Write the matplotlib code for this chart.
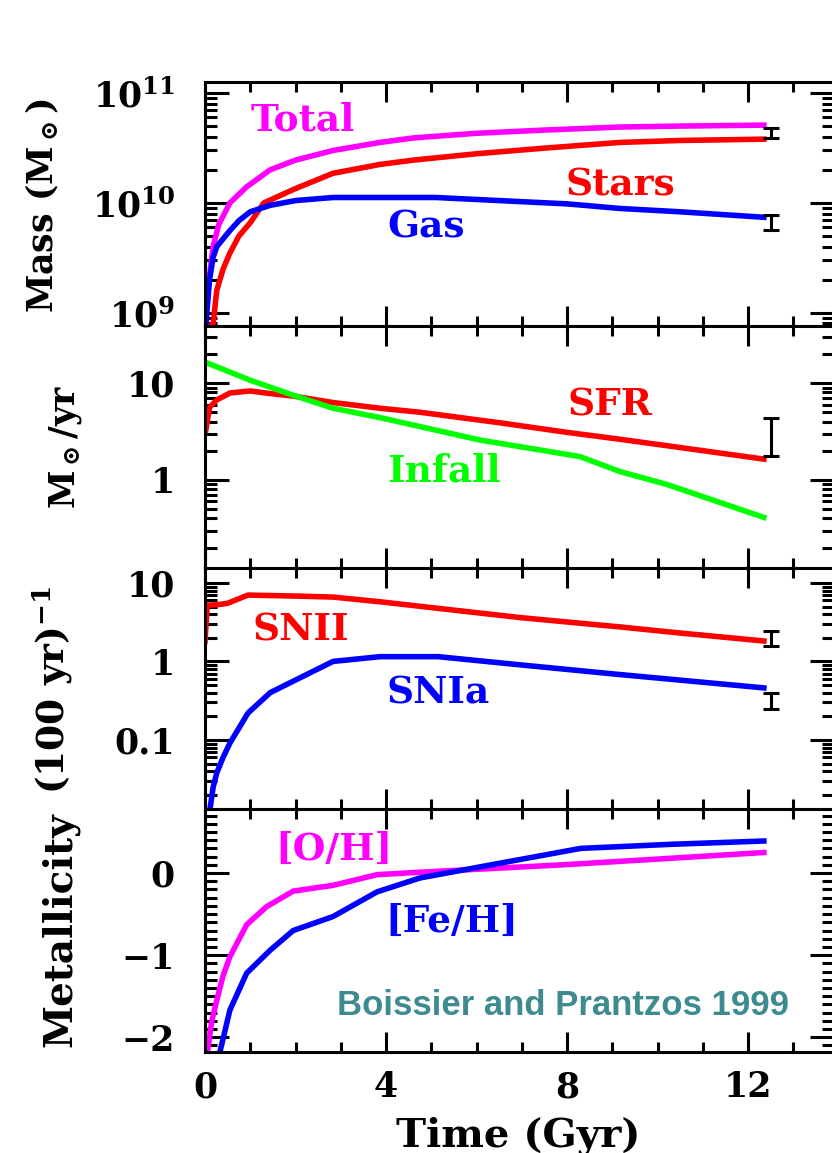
import math
import matplotlib
matplotlib.use("Agg")
import matplotlib.pyplot as plt
from matplotlib.ticker import MultipleLocator, LogLocator, FuncFormatter, FixedLocator, NullFormatter

# ---- data (time in Gyr) ----
t_total = [0.05, 0.1, 0.18, 0.3, 0.55, 0.92, 1.44, 2.0, 2.83, 3.87, 4.6, 6.0, 7.5, 9.17, 10.5, 12.35]
m_total = [1.3e9, 2.2e9, 4.0e9, 6.3e9, 1.0e10, 1.4e10, 2.0e10, 2.45e10, 3.0e10, 3.55e10,
           3.9e10, 4.3e10, 4.6e10, 4.9e10, 5.0e10, 5.1e10]
t_stars = [0.12, 0.18, 0.26, 0.4, 0.55, 0.75, 1.0, 1.3, 2.0, 2.83, 3.87, 4.6, 6.0, 7.5, 9.17, 10.5, 12.35]
m_stars = [7.6e8, 8.0e8, 1.6e9, 2.5e9, 3.5e9, 5.0e9, 6.6e9, 1.0e10, 1.35e10, 1.86e10, 2.24e10,
           2.45e10, 2.8e10, 3.15e10, 3.55e10, 3.7e10, 3.8e10]
t_gas = [0.02, 0.04, 0.1, 0.18, 0.26, 0.55, 0.75, 1.0, 1.44, 2.0, 2.83, 3.87, 5.1, 6.5, 8.0, 9.17, 10.5, 12.35]
m_gas = [7.6e8, 1.0e9, 2.0e9, 3.2e9, 4.0e9, 5.6e9, 6.9e9, 8.3e9, 9.5e9, 1.05e10, 1.12e10, 1.12e10,
         1.12e10, 1.05e10, 9.8e9, 8.9e9, 8.3e9, 7.4e9]

t_sfr = [0.02, 0.1, 0.26, 0.55, 1.0, 1.44, 1.95, 2.83, 3.87, 4.75, 6.5, 8.0, 9.17, 10.5, 12.35]
sfr = [3.3, 5.6, 6.7, 7.9, 8.3, 7.8, 7.35, 6.3, 5.5, 5.0, 3.9, 3.1, 2.63, 2.16, 1.64]
t_inf = [0.0, 0.55, 1.0, 1.95, 2.83, 3.87, 6.08, 8.29, 9.17, 10.2, 12.35]
infall = [16.5, 13.0, 10.7, 7.5, 5.5, 4.4, 2.58, 1.74, 1.22, 0.9, 0.41]

t_snii = [0.0, 0.05, 0.3, 0.5, 0.95, 2.0, 2.83, 3.87, 5.5, 7.0, 9.17, 10.5, 12.35]
snii = [1.8, 5.2, 5.3, 5.5, 7.0, 6.8, 6.6, 5.75, 4.5, 3.6, 2.75, 2.3, 1.82]
t_snia = [0.1, 0.18, 0.26, 0.4, 0.55, 0.95, 1.44, 1.95, 2.83, 3.87, 5.15, 7.0, 9.17, 12.35]
snia = [0.012, 0.025, 0.038, 0.06, 0.091, 0.22, 0.40, 0.56, 1.0, 1.15, 1.15, 0.9, 0.68, 0.46]

t_oh = [0.05, 0.15, 0.26, 0.4, 0.55, 0.92, 1.36, 1.95, 2.83, 3.8, 4.75, 6.5, 7.9, 10.0, 12.35]
oh = [-2.2, -1.8, -1.55, -1.25, -1.02, -0.63, -0.41, -0.22, -0.15, -0.02, 0.01, 0.06, 0.1, 0.17, 0.25]
t_feh = [0.33, 0.55, 0.92, 1.44, 1.95, 2.83, 3.8, 4.75, 6.52, 8.3, 10.3, 12.35]
feh = [-2.18, -1.67, -1.22, -0.94, -0.70, -0.53, -0.23, -0.06, 0.12, 0.30, 0.35, 0.39]

# observed values (error bars) at present time
t_obs = 12.5
obs_total = (3.87e10, 4.77e10)
obs_gas = (5.7e9, 7.8e9)
obs_sfr = (1.77, 4.33)
obs_snii = (1.57, 2.47)
obs_snia = (0.246, 0.40)

plt.rcParams['font.family'] = 'DejaVu Serif'
plt.rcParams['font.weight'] = 'bold'
plt.rcParams['mathtext.fontset'] = 'dejavuserif'

W, H = 832, 1153
fig = plt.figure(figsize=(W / 100, H / 100), dpi=100)

left, right = 205, 834
edges = [82, 326, 568, 809, 1052]
axes = []
for i in range(4):
    top, bot = edges[i], edges[i + 1]
    ax = fig.add_axes([left / W, 1 - bot / H, (right - left) / W, (bot - top) / H])
    axes.append(ax)

MAG, RED, BLUE, GREEN = '#ff00ff', '#ff0000', '#0000ff', '#00ff00'
LW = 4.0
TXT = 27


def errbar(ax, lo, hi):
    mid = 0.5 * (lo + hi)
    ax.errorbar([t_obs], [mid], yerr=[[mid - lo], [hi - mid]], fmt='none',
                ecolor='black', elinewidth=2.2, capsize=6, capthick=2.2, zorder=5)


def style(ax):
    ax.set_xlim(0, 13.9)
    ax.xaxis.set_major_locator(MultipleLocator(4))
    ax.xaxis.set_minor_locator(MultipleLocator(1))
    ax.tick_params(axis='x', which='both', direction='in', top=True, bottom=True, width=2.2)
    ax.tick_params(axis='x', which='major', length=14.4, pad=13, labelsize=25)
    ax.tick_params(axis='x', which='minor', length=7.5)
    ax.tick_params(axis='y', which='both', direction='in', left=True, right=True, width=2.2)
    ax.tick_params(axis='y', which='major', length=17.3, pad=21.6, labelsize=25)
    ax.tick_params(axis='y', which='minor', length=8.6)
    for s in ax.spines.values():
        s.set_linewidth(2.2)


def log_axis(ax, lo, hi, majors, fmt):
    ax.set_yscale('log')
    ax.set_ylim(lo, hi)
    ax.yaxis.set_major_locator(FixedLocator(majors))
    ax.yaxis.set_minor_locator(LogLocator(base=10, subs=range(2, 10)))
    ax.yaxis.set_major_formatter(FuncFormatter(fmt))
    ax.yaxis.set_minor_formatter(NullFormatter())


# ---- panel 1: masses ----
ax = axes[0]
ax.plot(t_total, m_total, color=MAG, lw=LW)
ax.plot(t_stars, m_stars, color=RED, lw=LW)
ax.plot(t_gas, m_gas, color=BLUE, lw=LW)
errbar(ax, *obs_total)
errbar(ax, *obs_gas)
log_axis(ax, 10 ** 8.88, 10 ** 11.1, [1e9, 1e10, 1e11],
         lambda v, p: r'$\mathbf{10^{%d}}$' % round(math.log10(v)))
ax.text(1.0, 4.6e10, 'Total', color=MAG, fontsize=TXT, va='baseline')
ax.text(7.96, 1.18e10, 'Stars', color=RED, fontsize=TXT, va='baseline')
ax.text(4.02, 4.8e9, 'Gas', color=BLUE, fontsize=TXT, va='baseline')

# ---- panel 2: SFR and infall ----
ax = axes[1]
ax.plot(t_sfr, sfr, color=RED, lw=LW)
ax.plot(t_inf, infall, color=GREEN, lw=LW)
errbar(ax, *obs_sfr)
log_axis(ax, 10 ** -0.91, 10 ** 1.59, [1, 10], lambda v, p: '%g' % v)
ax.text(8.0, 4.68, 'SFR', color=RED, fontsize=TXT, va='baseline')
ax.text(4.02, 0.955, 'Infall', color=GREEN, fontsize=TXT, va='baseline')

# ---- panel 3: supernova rates ----
ax = axes[2]
ax.plot(t_snii, snii, color=RED, lw=LW)
ax.plot(t_snia, snia, color=BLUE, lw=LW)
errbar(ax, *obs_snii)
errbar(ax, *obs_snia)
log_axis(ax, 10 ** -1.88, 10 ** 1.19, [0.1, 1, 10], lambda v, p: '%g' % v)
ax.text(1.04, 1.87, 'SNII', color=RED, fontsize=TXT, va='baseline')
ax.text(4.02, 0.293, 'SNIa', color=BLUE, fontsize=TXT, va='baseline')

# ---- panel 4: metallicity ----
ax = axes[3]
ax.plot(t_oh, oh, color=MAG, lw=LW)
ax.plot(t_feh, feh, color=BLUE, lw=LW)
ax.set_ylim(-2.18, 0.78)
ax.yaxis.set_major_locator(MultipleLocator(1))
ax.yaxis.set_minor_locator(MultipleLocator(0.1))
ax.yaxis.set_major_formatter(FuncFormatter(lambda v, p: ('%.0f' % v).replace('-', '\u2212')))
ax.text(1.55, 0.16, '[O/H]', color=MAG, fontsize=TXT, va='baseline')
ax.text(3.98, -0.72, '[Fe/H]', color=BLUE, fontsize=TXT, va='baseline')
ax.text(7.91, -1.73, 'Boissier and Prantzos 1999', color='#3d8b8f', fontsize=25,
        family='Liberation Sans', weight='bold', ha='center', va='baseline')

for i, ax in enumerate(axes):
    style(ax)
    if i < 3:
        ax.tick_params(axis='x', labelbottom=False)
axes[3].xaxis.set_major_formatter(FuncFormatter(lambda v, p: '%d' % v))

# ---- axis titles ----
fig.text(42 / W, 1 - 206 / H, r'Mass (M$_\odot$)', rotation=90, ha='center', va='center', fontsize=25)
fig.text(65 / W, 1 - 447 / H, r'M$_\odot$/yr', rotation=90, ha='center', va='center', fontsize=25)
fig.text(53 / W, 1 - 690 / H, r'(100 yr)$^{\mathbf{-1}}$', rotation=90, ha='center', va='center', fontsize=27)
fig.text(60 / W, 1 - 930 / H, 'Metallicity', rotation=90, ha='center', va='center', fontsize=28)
fig.text(518 / W, 1 - 1136 / H, 'Time (Gyr)', ha='center', va='center', fontsize=29)

fig.savefig('out.png', dpi=100)
